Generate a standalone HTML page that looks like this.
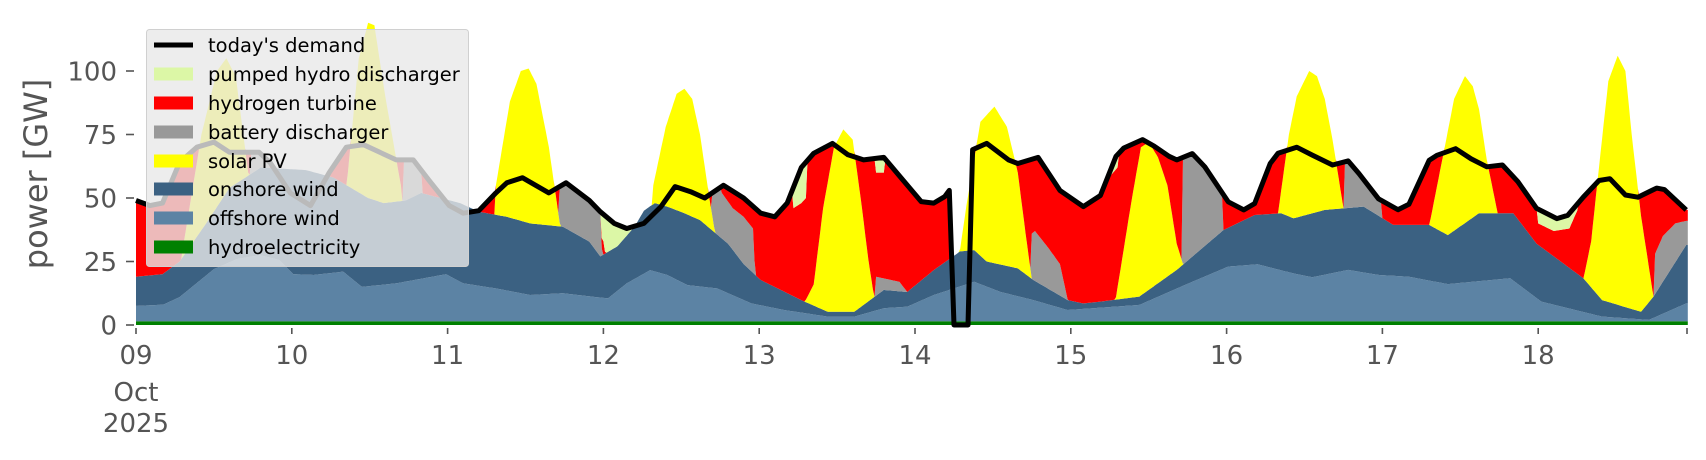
<!DOCTYPE html>
<html><head><meta charset="utf-8"><style>
html,body{margin:0;padding:0;background:#fff;}
svg{display:block;font-family:"DejaVu Sans","Liberation Sans",sans-serif;}
</style></head><body>
<svg id="s" width="1706" height="460" xmlns="http://www.w3.org/2000/svg">
<g id="areas"></g>
<path id="dem" fill="none" stroke="#000" stroke-width="5" stroke-linejoin="round"/>
<g id="ax" fill="#555" font-size="26"></g>
<text x="0" y="0" transform="translate(47,174) rotate(-90)" text-anchor="middle" font-size="32" fill="#555">power [GW]</text>
<g>
<rect x="146.5" y="29.5" width="322" height="237" rx="3" fill="rgb(232,232,232)" fill-opacity="0.8" stroke="#d0d0d0"/>
<line x1="154" y1="45" x2="193" y2="45" stroke="#000" stroke-width="5"/>
<rect x="154" y="67.5" width="39" height="13" fill="#dcf7a6"/>
<rect x="154" y="96.5" width="39" height="13" fill="#ff0000"/>
<rect x="154" y="125.5" width="39" height="13" fill="#999999"/>
<rect x="154" y="154.5" width="39" height="13" fill="#ffff00"/>
<rect x="154" y="182.5" width="39" height="13" fill="#3b6182"/>
<rect x="154" y="211.5" width="39" height="13" fill="#5c83a4"/>
<rect x="154" y="240.5" width="39" height="13" fill="#008000"/>
<g font-size="19.5" fill="#000">
<text x="208" y="52">today's demand</text>
<text x="208" y="81">pumped hydro discharger</text>
<text x="208" y="110">hydrogen turbine</text>
<text x="208" y="139">battery discharger</text>
<text x="208" y="168">solar PV</text>
<text x="208" y="196">onshore wind</text>
<text x="208" y="225">offshore wind</text>
<text x="208" y="254">hydroelectricity</text>
</g>
</g>
</svg>
<script>
function X(d){return 136+155.8*d;}
function Y(v){return 325-2.54*v;}
function interp(pts,d){
 if(d<=pts[0][0])return pts[0][1];
 for(var i=1;i<pts.length;i++){if(d<=pts[i][0]){var a=pts[i-1],b=pts[i];return a[1]+(b[1]-a[1])*(d-a[0])/(b[0]-a[0]);}}
 return pts[pts.length-1][1];
}
var D=[[0,49],[0.09,47],[0.17,48],[0.28,64],[0.39,70],[0.5,72],[0.6,68],[0.79,68],[0.86,64],[0.99,52],[1.12,47],[1.24,60],[1.35,70],[1.46,71],[1.67,65],[1.78,65],[1.88,57],[2.01,47],[2.1,44],[2.2,45],[2.31,52],[2.38,56],[2.48,58],[2.65,52],[2.76,56],[2.91,49],[2.98,44.6],[3.07,40],[3.15,38],[3.26,40],[3.37,46.6],[3.46,54.5],[3.56,52.5],[3.65,50],[3.77,55],[3.9,50],[4.01,44],[4.1,42.6],[4.18,48],[4.27,62],[4.35,67.6],[4.47,71.5],[4.57,67],[4.67,65],[4.8,66],[4.91,58],[5.04,48.6],[5.12,48],[5.19,50.5],[5.22,53],[5.25,0],[5.34,0],[5.37,69],[5.46,71.5],[5.6,65],[5.66,63.6],[5.79,66],[5.93,53],[6.08,46.6],[6.19,51],[6.29,66.4],[6.34,69.7],[6.46,73],[6.535,70.4],[6.63,66.4],[6.68,65],[6.78,67.5],[6.86,62.3],[6.96,53.1],[7.01,48.5],[7.11,45.3],[7.18,47.8],[7.28,63.6],[7.33,67.6],[7.45,70],[7.55,66.9],[7.68,63],[7.78,64.6],[7.85,59.6],[7.975,49.7],[8.1,45.4],[8.17,47.5],[8.3,64.8],[8.35,66.8],[8.47,69.4],[8.57,65.4],[8.67,62.3],[8.77,63],[8.87,56.4],[8.99,45.9],[9.12,41.9],[9.19,43.2],[9.29,50.4],[9.39,56.9],[9.46,57.6],[9.56,51.2],[9.64,50.3],[9.76,53.9],[9.81,53.3],[9.95,45.3]];
var OFF=[[0,7.5],[0.175,8],[0.28,11],[0.5,22],[0.65,26],[0.795,27.5],[0.92,25.6],[1.01,20],[1.14,19.7],[1.33,21],[1.45,15],[1.67,16.4],[1.99,20],[2.1,16.4],[2.31,14.4],[2.53,11.8],[2.74,12.5],[2.95,11],[3.03,10.5],[3.15,16.4],[3.3,21.6],[3.41,19.7],[3.54,15.7],[3.73,14.4],[3.95,8.5],[4.16,5.9],[4.44,3.3],[4.61,3.3],[4.8,6.6],[4.95,7.2],[5.12,11.8],[5.38,17],[5.55,13],[5.76,9.8],[5.98,5.9],[6.19,6.8],[6.44,7.9],[6.73,15.7],[7.01,23],[7.2,23.9],[7.43,20.3],[7.55,18.8],[7.78,21.7],[7.975,19.7],[8.17,19],[8.42,16.1],[8.82,18.4],[9.02,9.2],[9.41,3.3],[9.71,2],[9.95,8.5]];
var ON=[[0,19],[0.17,20],[0.28,25],[0.45,40],[0.6,54],[0.8,62],[1.09,61],[1.27,58],[1.49,50],[1.59,48],[1.73,49],[1.83,52],[2.08,48],[2.2,44.6],[2.38,42.6],[2.53,40],[2.74,38.7],[2.91,32.8],[2.98,27],[3.09,31],[3.2,38.7],[3.26,45],[3.33,48],[3.41,46.6],[3.52,44],[3.62,41.3],[3.8,32],[3.9,24],[4.01,17.7],[4.27,9.8],[4.44,5.2],[4.61,5.2],[4.8,13.8],[4.95,13],[5.12,21.6],[5.29,29],[5.38,29.5],[5.46,25],[5.66,22.3],[5.76,17.7],[5.98,9.8],[6.08,8.5],[6.19,9.2],[6.44,11.2],[6.68,21.7],[6.98,37.4],[7.18,43.3],[7.35,44],[7.43,42],[7.63,45.3],[7.88,46.6],[8.07,39.4],[8.3,39.4],[8.42,35.4],[8.62,44],[8.84,44],[8.99,32],[9.29,18.4],[9.41,9.8],[9.66,5.2],[9.74,11.2],[9.95,31.5]];
var SOL=[[0.25,0],[0.3,30],[0.42,75],[0.52,100],[0.58,105],[0.64,98],[0.72,60],[0.77,0],
[1.32,0],[1.36,60],[1.43,105],[1.49,119],[1.53,118],[1.6,90],[1.7,55],[1.74,0],
[2.27,0],[2.31,55],[2.4,88],[2.47,100],[2.52,101],[2.57,95],[2.65,70],[2.72,40],[2.75,0],
[3.28,0],[3.32,55],[3.4,78],[3.47,91],[3.52,93],[3.57,89],[3.62,75],[3.68,50],[3.72,35],[3.74,0],
[4.29,0],[4.3,10],[4.35,16],[4.41,46],[4.48,70],[4.54,77],[4.6,73],[4.66,46],[4.7,26],[4.73,14],[4.75,0],
[5.28,0],[5.29,30],[5.33,47],[5.42,80],[5.51,86],[5.59,78],[5.66,60],[5.71,36],[5.75,18],[5.76,0],
[6.27,0],[6.29,11],[6.39,49],[6.45,70],[6.5,72],[6.56,66],[6.62,55],[6.68,32],[6.73,22],[6.75,0],
[7.32,0],[7.33,44],[7.4,75],[7.45,90],[7.53,100],[7.58,98],[7.63,89],[7.68,73],[7.75,46],[7.76,0],
[8.29,0],[8.3,39],[8.4,70],[8.46,89],[8.53,98],[8.58,94],[8.62,85],[8.67,65],[8.74,44],[8.75,0],
[9.28,0],[9.29,18],[9.34,33],[9.39,62],[9.45,96],[9.51,106],[9.56,100],[9.6,75],[9.66,43],[9.74,11],[9.75,0]];
var BAT=[[0,0],[0.735,0],[0.74,999],[0.84,999],[0.86,0],[1.715,0],[1.72,999],[1.82,999],[1.84,0],
[2.715,0],[2.72,999],[2.88,999],[2.99,30],[3.0,0],
[3.69,0],[3.7,999],[3.75,999],[3.76,52],[3.83,46],[3.9,42.6],[3.96,38],[3.99,0],
[4.74,0],[4.75,19],[4.9,17],[4.95,13],[4.96,0],
[5.745,0],[5.75,36],[5.77,37],[5.86,30],[5.93,24],[5.98,10],[5.99,0],
[6.715,0],[6.72,999],[6.97,999],[6.98,0],
[7.755,0],[7.76,999],[7.97,999],[8.0,0],
[9.735,0],[9.75,28],[9.8,35],[9.88,40],[9.95,41]];
var H2=[[0,999],[2.885,999],[2.9,45],[3.0,33],[3.08,0],[3.25,0],[3.26,999],
[4.215,999],[4.22,46],[4.27,48],[4.3,50],[4.31,999],
[4.735,999],[4.75,60],[4.8,60],[4.82,999],
[6.195,999],[6.2,55],[6.3,62],[6.31,999],
[8.975,999],[9.0,40],[9.1,37],[9.2,38],[9.25,45],[9.28,999],[10,999]];
var N=996,ds=[],L={hy:[],off:[],on:[],sol:[],bat:[],h2:[],ph:[]};
for(var i=0;i<=N;i++){
 var d=i*0.01;ds.push(d);
 var dem=interp(D,d);
 var off=interp(OFF,d),on=Math.max(off,interp(ON,d));
 var sol=Math.max(on,interp(SOL,d));
 var bat=Math.max(sol,Math.min(interp(BAT,d),dem));
 var h2=Math.max(bat,Math.min(interp(H2,d),dem));
 var ph=Math.max(h2,dem);
 L.hy.push(1.5);L.off.push(off);L.on.push(on);L.sol.push(sol);L.bat.push(bat);L.h2.push(h2);L.ph.push(ph);
}
function band(lo,hi,col){
 var p="M";
 for(var i=0;i<=N;i++)p+=X(ds[i]).toFixed(1)+","+Y(hi[i]).toFixed(1)+" L";
 for(var i=N;i>=0;i--)p+=X(ds[i]).toFixed(1)+","+Y(lo?lo[i]:0).toFixed(1)+(i?" L":"");
 return '<path d="'+p+'Z" fill="'+col+'"/>';
}
var g="";
g+=band(null,L.hy,"#008000");
g+=band(L.hy,L.off,"#5c83a4");
g+=band(L.off,L.on,"#3b6182");
g+=band(L.on,L.sol,"#ffff00");
g+=band(L.sol,L.bat,"#999999");
g+=band(L.bat,L.h2,"#ff0000");
g+=band(L.h2,L.ph,"#dcf7a6");
document.getElementById("areas").innerHTML=g;
var p="";
for(var i=0;i<D.length;i++)p+=(i?"L":"M")+X(D[i][0]).toFixed(1)+","+Y(D[i][1]).toFixed(1);
document.getElementById("dem").setAttribute("d",p);
var a="";
[0,25,50,75,100].forEach(function(v){var y=Y(v);
 a+='<rect x="126" y="'+(y-0.8)+'" width="8" height="1.6"/>';
 a+='<text x="117" y="'+(y+9.5)+'" text-anchor="end">'+v+'</text>';});
var lab=["09","10","11","12","13","14","15","16","17","18"];
for(var k=0;k<=10;k++){var x=X(k);if(k==10)x=1687;
 a+='<rect x="'+(x-0.8)+'" y="328" width="1.6" height="6"/>';
 if(k<10)a+='<text x="'+x+'" y="364" text-anchor="middle">'+lab[k]+'</text>';}
a+='<text x="136" y="401" text-anchor="middle">Oct</text><text x="136" y="432" text-anchor="middle">2025</text>';
document.getElementById("ax").innerHTML=a;
</script>
</body></html>
